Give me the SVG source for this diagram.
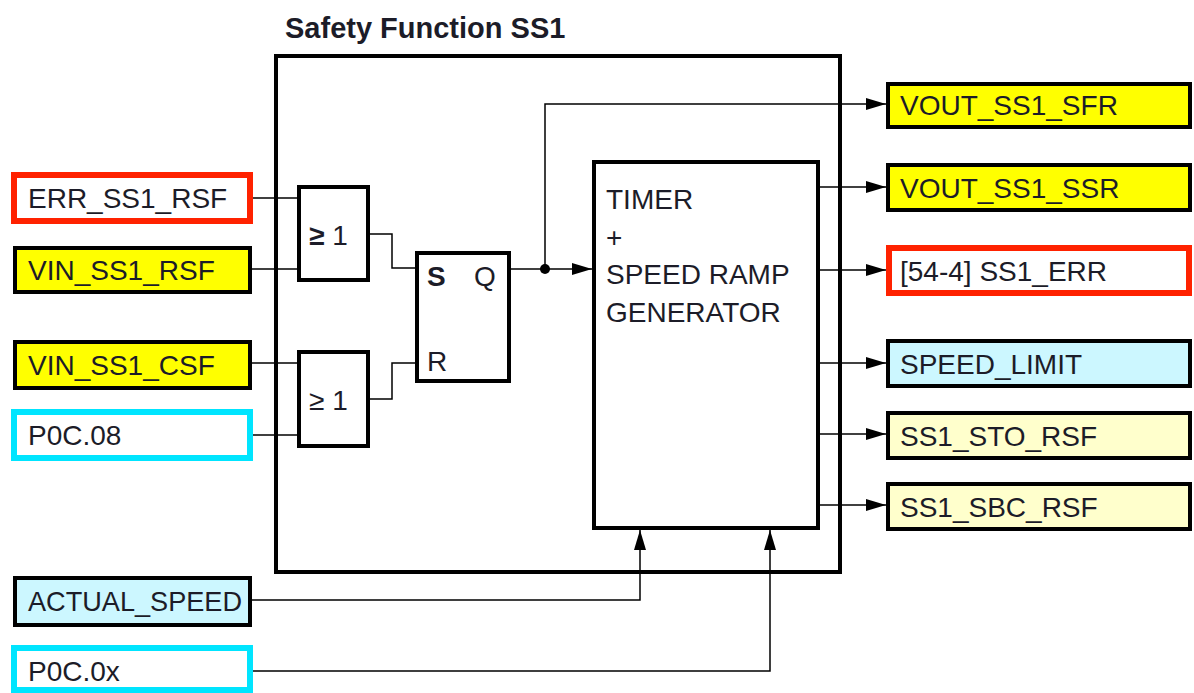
<svg xmlns="http://www.w3.org/2000/svg" width="1194" height="693" viewBox="0 0 1194 693">
<style>
text{font-family:"Liberation Sans",Arial,sans-serif;font-size:28px;fill:#1c1c28}
.b{font-weight:bold}
.t{font-size:29px}
.blk{stroke:#000;stroke-width:4;fill:#fff}
.yel{stroke:#000;stroke-width:4;fill:#ffff00}
.red{stroke:#ff2200;stroke-width:6;fill:#fff}
.cya{stroke:#00e5ff;stroke-width:6;fill:#fff}
.lcy{stroke:#000;stroke-width:4;fill:#ccf7ff}
.lye{stroke:#000;stroke-width:4;fill:#ffffcc}
.ln{stroke:#000;stroke-width:1.5;fill:none}
</style>
<defs>
<marker id="ah" markerUnits="userSpaceOnUse" markerWidth="22" markerHeight="14" refX="20" refY="7" orient="auto">
<path d="M0,1 L20,7 L0,13 z" fill="#000"/>
</marker>
</defs>
<rect width="1194" height="693" fill="#fff"/>
<g id="title"><text class="b t" x="285" y="38">Safety Function SS1</text></g>
<g id="ss1-box"><rect class="blk" x="276" y="56" width="564" height="516" fill="none"/></g>
<g id="connectors">
<path class="ln" d="M252,198 H299"/>
<path class="ln" d="M252,269 H299"/>
<path class="ln" d="M252,363 H299"/>
<path class="ln" d="M252,435 H299"/>
<path class="ln" d="M370,234 H392 V268 H417"/>
<path class="ln" d="M370,399 H392 V363 H417"/>
<path class="ln" d="M511,269 H592" marker-end="url(#ah)"/>
<path class="ln" d="M545,269 V104 H886" marker-end="url(#ah)"/>
<circle cx="545" cy="269" r="5" fill="#000"/>
<path class="ln" d="M820,187 H886" marker-end="url(#ah)"/>
<path class="ln" d="M820,270 H886" marker-end="url(#ah)"/>
<path class="ln" d="M820,363 H886" marker-end="url(#ah)"/>
<path class="ln" d="M820,434 H886" marker-end="url(#ah)"/>
<path class="ln" d="M820,505 H886" marker-end="url(#ah)"/>
<path class="ln" d="M252,600 H640 V530" marker-end="url(#ah)"/>
<path class="ln" d="M252,671 H770 V530" marker-end="url(#ah)"/>
</g>
<g id="in-err-ss1-rsf"><rect class="red" x="14" y="175" width="236" height="46"/><text x="28" y="208">ERR_SS1_RSF</text></g>
<g id="in-vin-ss1-rsf"><rect class="yel" x="15" y="248" width="235" height="44"/><text x="28" y="280">VIN_SS1_RSF</text></g>
<g id="in-vin-ss1-csf"><rect class="yel" x="15" y="342" width="235" height="46"/><text x="28" y="375">VIN_SS1_CSF</text></g>
<g id="in-p0c08"><rect class="cya" x="14" y="412" width="236" height="46"/><text x="28" y="445">P0C.08</text></g>
<g id="in-actual-speed"><rect class="lcy" x="15" y="578" width="235" height="47"/><text x="28" y="611" textLength="214" lengthAdjust="spacingAndGlyphs">ACTUAL_SPEED</text></g>
<g id="in-p0c0x"><rect class="cya" x="14" y="648" width="236" height="42"/><text x="28" y="681">P0C.0x</text></g>
<g id="or1"><rect class="blk" x="299" y="187" width="69" height="93"/><text x="309" y="245"><tspan class="b">≥</tspan> 1</text></g>
<g id="or2"><rect class="blk" x="299" y="352" width="69" height="94"/><text x="309" y="410">≥ 1</text></g>
<g id="sr"><rect class="blk" x="417" y="253" width="92" height="128"/><text class="b" x="427" y="286">S</text><text x="474" y="286">Q</text><text x="427" y="371">R</text></g>
<g id="timer"><rect class="blk" x="594" y="162" width="224" height="366"/>
<text x="606" y="209">TIMER</text><text x="606" y="247">+</text><text x="606" y="284">SPEED RAMP</text><text x="606" y="322">GENERATOR</text></g>
<g id="out-vout-sfr"><rect class="yel" x="888" y="84" width="302" height="43"/><text x="900" y="115">VOUT_SS1_SFR</text></g>
<g id="out-vout-ssr"><rect class="yel" x="888" y="165" width="302" height="45"/><text x="900" y="198">VOUT_SS1_SSR</text></g>
<g id="out-ss1-err"><rect class="red" x="889" y="248" width="300" height="45"/><text x="900" y="281">[54-4] SS1_ERR</text></g>
<g id="out-speed-limit"><rect class="lcy" x="888" y="341" width="302" height="45"/><text x="900" y="374">SPEED_LIMIT</text></g>
<g id="out-sto"><rect class="lye" x="888" y="413" width="302" height="45"/><text x="900" y="446">SS1_STO_RSF</text></g>
<g id="out-sbc"><rect class="lye" x="888" y="484" width="302" height="45"/><text x="900" y="517">SS1_SBC_RSF</text></g>
</svg>
